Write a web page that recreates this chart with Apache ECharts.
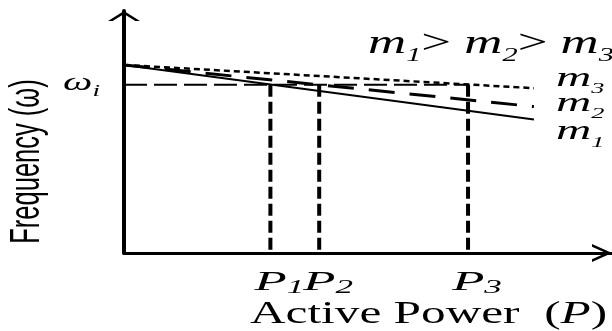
<!DOCTYPE html>
<html><head><meta charset="utf-8">
<script src="https://cdn.jsdelivr.net/npm/echarts@6/dist/echarts.min.js"></script>
<style>html,body{margin:0;padding:0;background:#fff}#c{width:612px;height:331px}</style>
</head><body><div id="c"></div>
<script>
// ---- data ----
const xRange = [0, 100];
const yRange = [0, 100];
const lineStart = [0, 77.7];          // common starting point of the droop lines
const lineEndX = 84;
const slopeNames = ['m1', 'm2', 'm3'];
const slopeEndY = [55.2, 60.5, 68.1]; // frequency at the end of each droop line
const omegaI = 69.5;                  // ωi level
const powerNames = ['P1', 'P2', 'P3'];
const powerValues = [30, 40, 70.5];
const xAxisTitle = 'Active Power';
const yAxisTitle = 'Frequency (ω)';
const relationText = ['m', '1', '> ', 'm', '2', '> ', 'm', '3'];

// ---- chart ----
const serif = '"Liberation Serif","Times New Roman",serif';
const sans = '"Liberation Sans",Arial,sans-serif';
const chart = echarts.init(document.getElementById('c'), null, {renderer: 'canvas'});

const slopeStyles = [
  {color: '#000', width: 2, type: 'solid'},
  {color: '#000', width: 3, type: [26, 15]},
  {color: '#000', width: 2.5, type: [6, 4]}
];

const series = slopeNames.map((n, i) => ({
  name: n, type: 'line', symbol: 'none', silent: true, animation: false,
  data: [lineStart, [lineEndX, slopeEndY[i]]],
  lineStyle: slopeStyles[i], z: 3
}));
series.push({
  name: 'omega', type: 'line', symbol: 'none', silent: true, animation: false,
  data: [[xRange[0], omegaI], [powerValues[2], omegaI]],
  lineStyle: {color: '#000', width: 2, type: [23, 7]}, z: 2
});
powerValues.forEach((p, i) => series.push({
  name: powerNames[i], type: 'line', symbol: 'none', silent: true, animation: false,
  data: [[p, omegaI], [p, yRange[0]]],
  lineStyle: {color: '#000', width: 4, type: [12, 5]}, z: 2
}));

chart.setOption({
  animation: false,
  backgroundColor: '#fff',
  grid: {left: 124, right: 0, top: 11, bottom: 78},
  xAxis: {
    type: 'value', min: xRange[0], max: xRange[1],
    axisLine: {show: true, lineStyle: {color: '#000', width: 3},
      symbol: ['none', 'path://M0,20 L9,0 L18,20 L15.3,20 L9,6.1 L2.7,20 Z'],
      symbolSize: [18, 20], symbolOffset: [0, -10]},
    axisTick: {show: false}, axisLabel: {show: false}, splitLine: {show: false}
  },
  yAxis: {
    type: 'value', min: yRange[0], max: yRange[1],
    axisLine: {show: true, lineStyle: {color: '#000', width: 4},
      symbol: ['none', 'path://M0,10 L16,0 L32,10 L27.3,10 L16,2.9 L4.7,10 Z'],
      symbolSize: [32, 10], symbolOffset: [0, -5]},
    axisTick: {show: false}, axisLabel: {show: false}, splitLine: {show: false}
  },
  series: series
});

function px(pt) { return chart.convertToPixel({gridIndex: 0}, pt); }

function txt(x, y, text, rich, o) {
  o = o || {};
  return {
    type: 'text', x: x, y: y, silent: true,
    scaleX: o.sx || 1, scaleY: o.sy || 1, rotation: o.rot || 0, z: 10,
    style: {
      text: text, rich: rich, fill: '#000',
      font: o.font || ('32px ' + serif),
      align: o.align || 'left', textAlign: o.align || 'left',
      verticalAlign: 'middle', textVerticalAlign: 'middle'
    }
  };
}
function subRich(fm, fs, pad) {
  return {
    m: {fontSize: fm, fontStyle: 'italic', fontFamily: serif, fill: '#000'},
    s: {fontSize: fs, fontStyle: 'italic', fontFamily: serif, fill: '#000', padding: [pad, 0, 0, 0]},
    o: {fontSize: fm, fontFamily: serif, fill: '#000'},
    a: {fontSize: fm, fontFamily: serif, fill: '#000'}
  };
}

const g = [];
// relation text m1> m2> m3
const relStr = relationText.map((t, i) => (i % 3 === 0 ? '{m|' : i % 3 === 1 ? '{s|' : '{o|') + t + '}').join('');
g.push(txt(368, 44, relStr, subRich(33, 19, 23), {sx: 1.6}));

// labels at line ends
const labelDy = [12.7, -3, -9.8];
slopeNames.forEach((n, i) => {
  const e = px([lineEndX, slopeEndY[i]]);
  g.push(txt(e[0] + 22, e[1] + labelDy[i], '{m|m}{s|' + n.slice(1) + '}', subRich(28, 15, 21), {sx: 1.75}));
});

// omega_i label
const o0 = px([xRange[0], omegaI]);
g.push(txt(o0[0] - 24, o0[1] - 1.4, '{m|ω}{s|i}', subRich(26, 17, 16), {sx: 1.6, align: 'right'}));

// P labels
powerNames.forEach((n, i) => {
  const p = px([powerValues[i], yRange[0]]);
  g.push(txt(p[0] + 9, p[1] + 30, '{m|P}{s|' + n.slice(1) + '}', subRich(27, 18, 11), {sx: 1.95, align: 'center'}));
});

// axis titles
g.push(txt(428.5, 315, '{a|' + xAxisTitle + '  (}{m|P}{a|)}', subRich(32, 20, 0), {sx: 1.54, align: 'center'}));
g.push(txt(27, 161.5, yAxisTitle, null, {sy: 1.7, rot: Math.PI / 2, align: 'center', font: '25.5px ' + sans}));

chart.setOption({graphic: {elements: g}});
</script>
</body></html>
